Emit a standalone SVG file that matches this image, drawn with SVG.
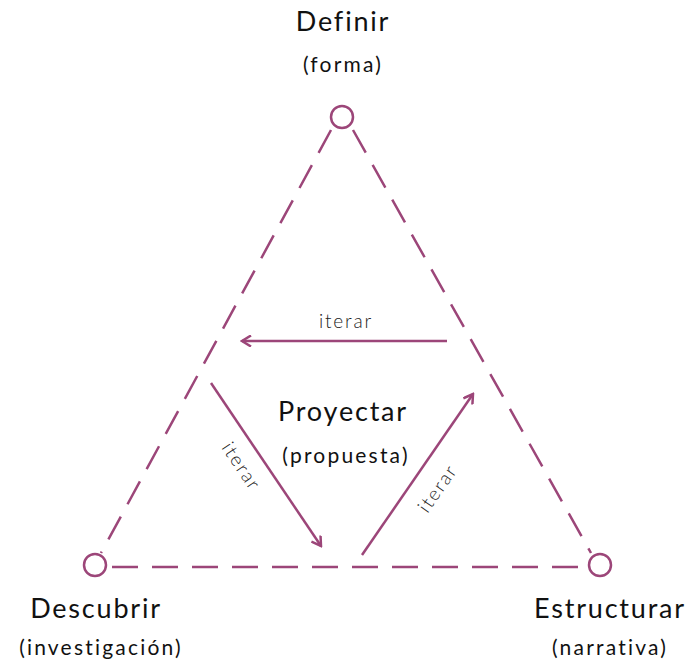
<svg xmlns="http://www.w3.org/2000/svg" width="694" height="663" viewBox="0 0 694 663">
<style>
.dash{stroke:#9c4679;stroke-width:2.5;fill:none;stroke-dasharray:26 14}
.arr{stroke:#9c4679;stroke-width:2.5;fill:none}
.node{stroke:#9c4679;stroke-width:2.5;fill:#fff}
.t{font-family:Lato,"Liberation Sans",sans-serif;fill:#111;text-anchor:middle}
.h{font-size:27px;letter-spacing:1.8px}
.s{font-size:21px;letter-spacing:2.2px}
.it{font-family:Lato,"Liberation Sans",sans-serif;font-size:19px;font-weight:300;letter-spacing:1.8px;fill:#222;text-anchor:middle}
</style>
<defs>
<marker id="ah" viewBox="0 0 12 12" refX="10" refY="6" markerWidth="12" markerHeight="12" markerUnits="userSpaceOnUse" orient="auto">
<path d="M1,0.5 L10,6 L1,11.5" fill="none" stroke="#9c4679" stroke-width="2.5"/>
</marker>
</defs>
<g id="connectors">
<line class="dash" x1="331" y1="130" x2="101" y2="553"/>
<line class="dash" x1="353" y1="130" x2="591" y2="553"/>
<line class="dash" x1="112" y1="567" x2="587" y2="567"/>
<line class="arr" x1="447" y1="341" x2="242" y2="341" marker-end="url(#ah)"/>
<line class="arr" x1="211" y1="383" x2="321" y2="546" marker-end="url(#ah)"/>
<line class="arr" x1="362" y1="555" x2="473" y2="394" marker-end="url(#ah)"/>
<text class="it" x="346" y="328">iterar</text>
<text class="it" transform="translate(236,470) rotate(56)">iterar</text>
<text class="it" transform="translate(443,492) rotate(-55)">iterar</text>
</g>
<g id="definir">
<circle class="node" cx="342" cy="117" r="11"/>
<text class="t h" x="343" y="31">Definir</text>
<text class="t s" x="343" y="72">(forma)</text>
</g>
<g id="descubrir">
<circle class="node" cx="95" cy="565" r="11"/>
<text class="t h" x="96" y="618">Descubrir</text>
<text class="t s" x="101" y="655">(investigación)</text>
</g>
<g id="estructurar">
<circle class="node" cx="600" cy="565" r="11"/>
<text class="t h" x="610" y="618">Estructurar</text>
<text class="t s" x="610" y="655">(narrativa)</text>
</g>
<g id="proyectar">
<text class="t h" x="343" y="421">Proyectar</text>
<text class="t s" x="346" y="463">(propuesta)</text>
</g>
</svg>
